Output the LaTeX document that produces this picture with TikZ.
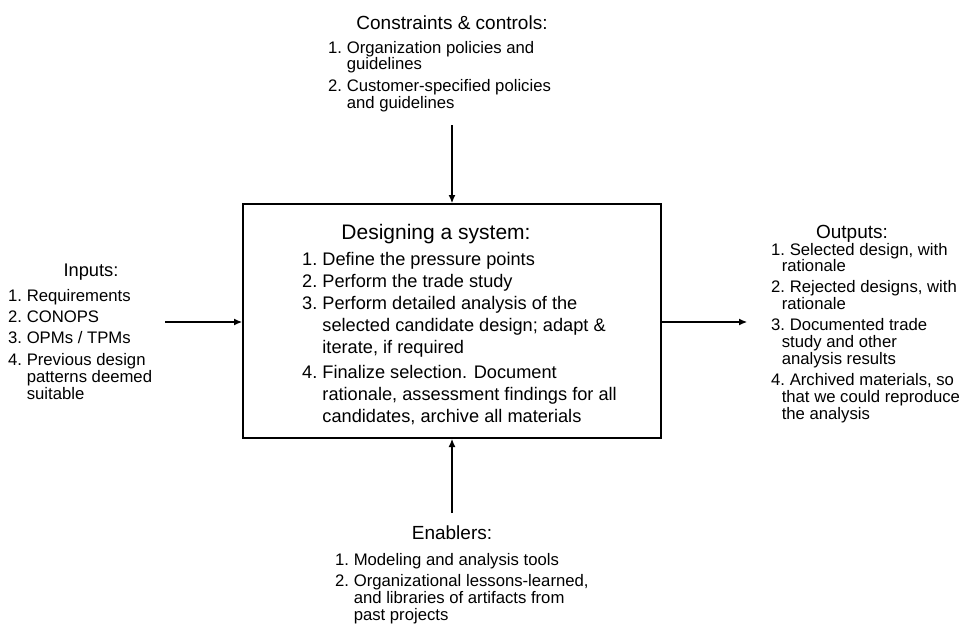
\documentclass[tikz,border=0pt]{standalone}
\usepackage{fontspec}
\setmainfont{Liberation Sans}
\usetikzlibrary{arrows.meta}

% numbered lists with hanging indent
\newcommand{\smalllist}[1]{{\fontsize{16.7}{16.2}\selectfont
  \begin{tabular}[t]{@{}l@{\ }l@{}}#1\end{tabular}}}
\newcommand{\inlist}[1]{{\fontsize{16.7}{16.4}\selectfont
  \begin{tabular}[t]{@{}l@{\ }l@{}}#1\end{tabular}}}
\newcommand{\boxlist}[1]{{\fontsize{18.2}{22}\selectfont
  \begin{tabular}[t]{@{}l@{\ }l@{}}#1\end{tabular}}}
% continuation line set slightly left of the item text
\newcommand{\outdent}{\hspace*{-8pt}}

\tikzset{
  heading/.style={font=\fontsize{19}{22}\selectfont, inner sep=0pt, anchor=base},
  listtext/.style={inner sep=0pt, anchor=base west, align=left},
  flow/.style={line width=1.1pt, -{Latex[length=8pt,width=7pt]}},
  mainbox/.style={draw, line width=2pt, minimum width=418pt, minimum height=234pt, inner sep=0pt}
}

\begin{document}
\begin{tikzpicture}[x=1pt,y=-1pt]
\useasboundingbox (0,0) rectangle (973,624);

% central activity
\node[mainbox] (box) at (452,321) {};
\node[heading, font=\fontsize{21}{24}\selectfont] (boxtitle) at (436,239) {Designing a system:};
\node[listtext] (boxitems) at (302,265.5) {\boxlist{
 1. & Define the pressure points\\
 2. & Perform the trade study\\
 3. & Perform detailed analysis of the\\
    & selected candidate design; adapt \&\\
    & iterate, if required\\[3pt]
 4. & Finalize selection. Document\\
    & rationale, assessment findings for all\\
    & candidates, archive all materials}};

% constraints and controls
\node[heading] (ctitle) at (452,29) {Constraints \& controls:};
\node[listtext] (citems) at (328,53) {\smalllist{
 1. & Organization policies and\\
    & guidelines\\[5pt]
 2. & Customer-specified policies\\
    & and guidelines}};

% inputs
\node[heading, font=\fontsize{18.3}{22}\selectfont] (ititle) at (91,276) {Inputs:};
\node[listtext] (iitems) at (8,301) {\inlist{
 1. & Requirements\\[4.5pt]
 2. & CONOPS\\[4.5pt]
 3. & OPMs / TPMs\\[4.5pt]
 4. & Previous design\\
    & patterns deemed\\
    & suitable}};

% outputs
\node[heading] (otitle) at (852,238) {Outputs:};
\node[listtext] (oitems) at (771,255) {\smalllist{
 1. & Selected design, with\\
    & \outdent rationale\\[4pt]
 2. & Rejected designs, with\\
    & \outdent rationale\\[4pt]
 3. & Documented trade\\
    & \outdent study and other\\
    & \outdent analysis results\\[4pt]
 4. & Archived materials, so\\
    & \outdent that we could reproduce\\
    & \outdent the analysis}};

% enablers
\node[heading] (etitle) at (452,539) {Enablers:};
\node[listtext] (eitems) at (335,565) {\smalllist{
 1. & Modeling and analysis tools\\[5pt]
 2. & Organizational lessons-learned,\\
    & and libraries of artifacts from\\
    & past projects}};

% connectors
\coordinate (ctop) at (452,125);
\coordinate (cbot) at (452,513);
\coordinate (cin) at (165,322);
\coordinate (cout) at (747,322);
\draw[flow] (ctop) -- (box.north);
\draw[flow] (cbot) -- (box.south);
\draw[flow] (cin) -- (cin -| box.west);
\draw[flow] (cout -| box.east) -- (cout);
\end{tikzpicture}
\end{document}
